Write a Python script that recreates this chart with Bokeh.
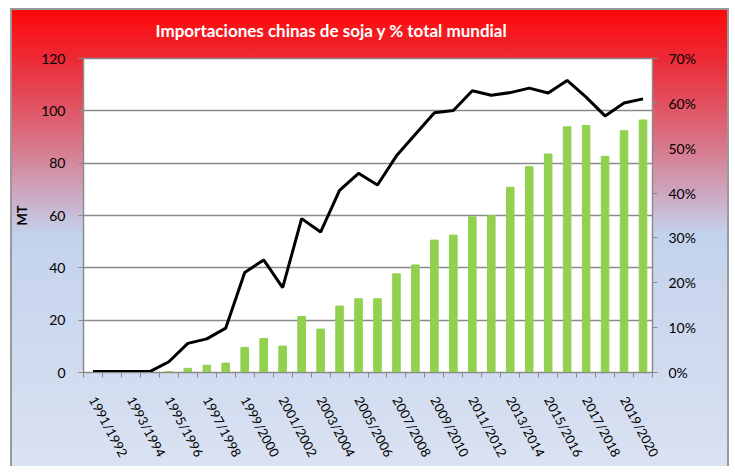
from bokeh.plotting import figure
from bokeh.models import Range1d, LinearAxis, FixedTicker, PrintfTickFormatter
from bokeh.embed import file_html
from bokeh.resources import INLINE

years = ["1991/1992", "1992/1993", "1993/1994", "1994/1995", "1995/1996", "1996/1997",
         "1997/1998", "1998/1999", "1999/2000", "2000/2001", "2001/2002", "2002/2003",
         "2003/2004", "2004/2005", "2005/2006", "2006/2007", "2007/2008", "2008/2009",
         "2009/2010", "2010/2011", "2011/2012", "2012/2013", "2013/2014", "2014/2015",
         "2015/2016", "2016/2017", "2017/2018", "2018/2019", "2019/2020", "2020/2021"]

imports_mt = [0, 0, 0, 0, 0.3, 1.6, 2.8, 3.6, 9.6, 13.0, 10.1, 21.4, 16.6, 25.4, 28.2,
              28.2, 37.7, 41.1, 50.6, 52.5, 59.5, 60.0, 70.8, 78.7, 83.5, 93.9, 94.4,
              82.6, 92.4, 96.5]

share_pct = [0.2, 0.2, 0.2, 0.2, 2.4, 6.5, 7.5, 9.9, 22.3, 25.1, 18.9, 34.3, 31.3, 40.6,
             44.4, 41.8, 48.3, 53.1, 57.9, 58.4, 62.8, 61.8, 62.4, 63.4, 62.3, 65.1,
             61.4, 57.2, 60.1, 61.0]

mt_ticks = [0, 20, 40, 60, 80, 100, 120]
pct_ticks = [0, 10, 20, 30, 40, 50, 60, 70]

FONT = "Lato"
GRAY = "#8a8a8a"

xs = list(range(len(years)))

p = figure(width=729, height=466, output_backend="svg", toolbar_location=None,
           x_range=Range1d(-0.5, len(years) - 0.5), y_range=Range1d(0, 120),
           min_border_left=83, min_border_right=77, min_border_top=57, min_border_bottom=93,
           title="Importaciones chinas de soja y % total mundial")

grad = ("linear-gradient(to bottom, #fe0808 0%, #ec2b37 11%, #dc6677 26%, "
        "#cdaac4 41%, #c3d2ec 49%, #dae2f2 100%)")
p.styles = {
    "background-image": grad + ", linear-gradient(#9a9a9a, #9a9a9a)",
    "background-position": "12px 10px, 10px 8px",
    "background-size": "calc(100% - 14px) calc(100% - 10px), calc(100% - 10px) calc(100% - 8px)",
    "background-repeat": "no-repeat, no-repeat",
}
p.border_fill_alpha = 0
p.background_fill_color = "white"
p.outline_line_color = GRAY
p.outline_line_width = 1.5

p.title.text_color = "white"
p.title.text_font = FONT
p.title.text_font_size = "17px"
p.title.text_font_style = "bold"
p.title.align = "left"
p.title.offset = 72
p.title.standoff = 35

p.extra_y_ranges = {"pct": Range1d(0, 70)}

p.vbar(x=xs, top=imports_mt, width=0.4, color="#92D050")
p.line(xs, share_pct, y_range_name="pct", line_color="black", line_width=3)

p.xgrid.visible = False
p.ygrid.ticker = FixedTicker(ticks=mt_ticks)
p.ygrid.grid_line_color = GRAY
p.ygrid.grid_line_width = 1.5

# left axis
la = p.yaxis[0]
la.ticker = FixedTicker(ticks=mt_ticks)
la.axis_label = "MT"
la.axis_label_text_font = FONT
la.axis_label_text_font_size = "13px"
la.axis_label_text_font_style = "bold"
la.axis_label_text_color = "black"
la.axis_label_standoff = 8
la.major_label_text_font = FONT
la.major_label_text_font_size = "14px"
la.major_label_text_color = "black"
la.major_label_standoff = 13
la.major_tick_out = 5
la.major_tick_in = 0
la.minor_tick_out = 0
la.minor_tick_in = 0
la.axis_line_color = GRAY
la.major_tick_line_color = GRAY

# right axis
ra = LinearAxis(y_range_name="pct", ticker=FixedTicker(ticks=pct_ticks),
                formatter=PrintfTickFormatter(format="%d%%"))
ra.major_label_text_font = FONT
ra.major_label_text_font_size = "14px"
ra.major_label_text_color = "black"
ra.major_label_standoff = 11
ra.major_tick_out = 5
ra.major_tick_in = 0
ra.minor_tick_out = 0
ra.minor_tick_in = 0
ra.axis_line_color = GRAY
ra.major_tick_line_color = GRAY
p.add_layout(ra, "right")

# bottom axis
ba = p.xaxis[0]
ba.ticker = FixedTicker(ticks=xs[::2], minor_ticks=[i - 0.5 for i in range(len(years) + 1)])
ba.major_label_overrides = {i: years[i] for i in xs[::2]}
ba.major_label_orientation = -1.08
ba.major_label_text_font = FONT
ba.major_label_text_font_size = "13px"
ba.major_label_text_color = "black"
ba.major_label_text_baseline = "bottom"
ba.major_label_standoff = 20
ba.major_tick_out = 0
ba.major_tick_in = 0
ba.minor_tick_out = 5
ba.minor_tick_in = 0
ba.axis_line_color = GRAY
ba.minor_tick_line_color = GRAY

open("out.html", "w").write(file_html(p, INLINE))
